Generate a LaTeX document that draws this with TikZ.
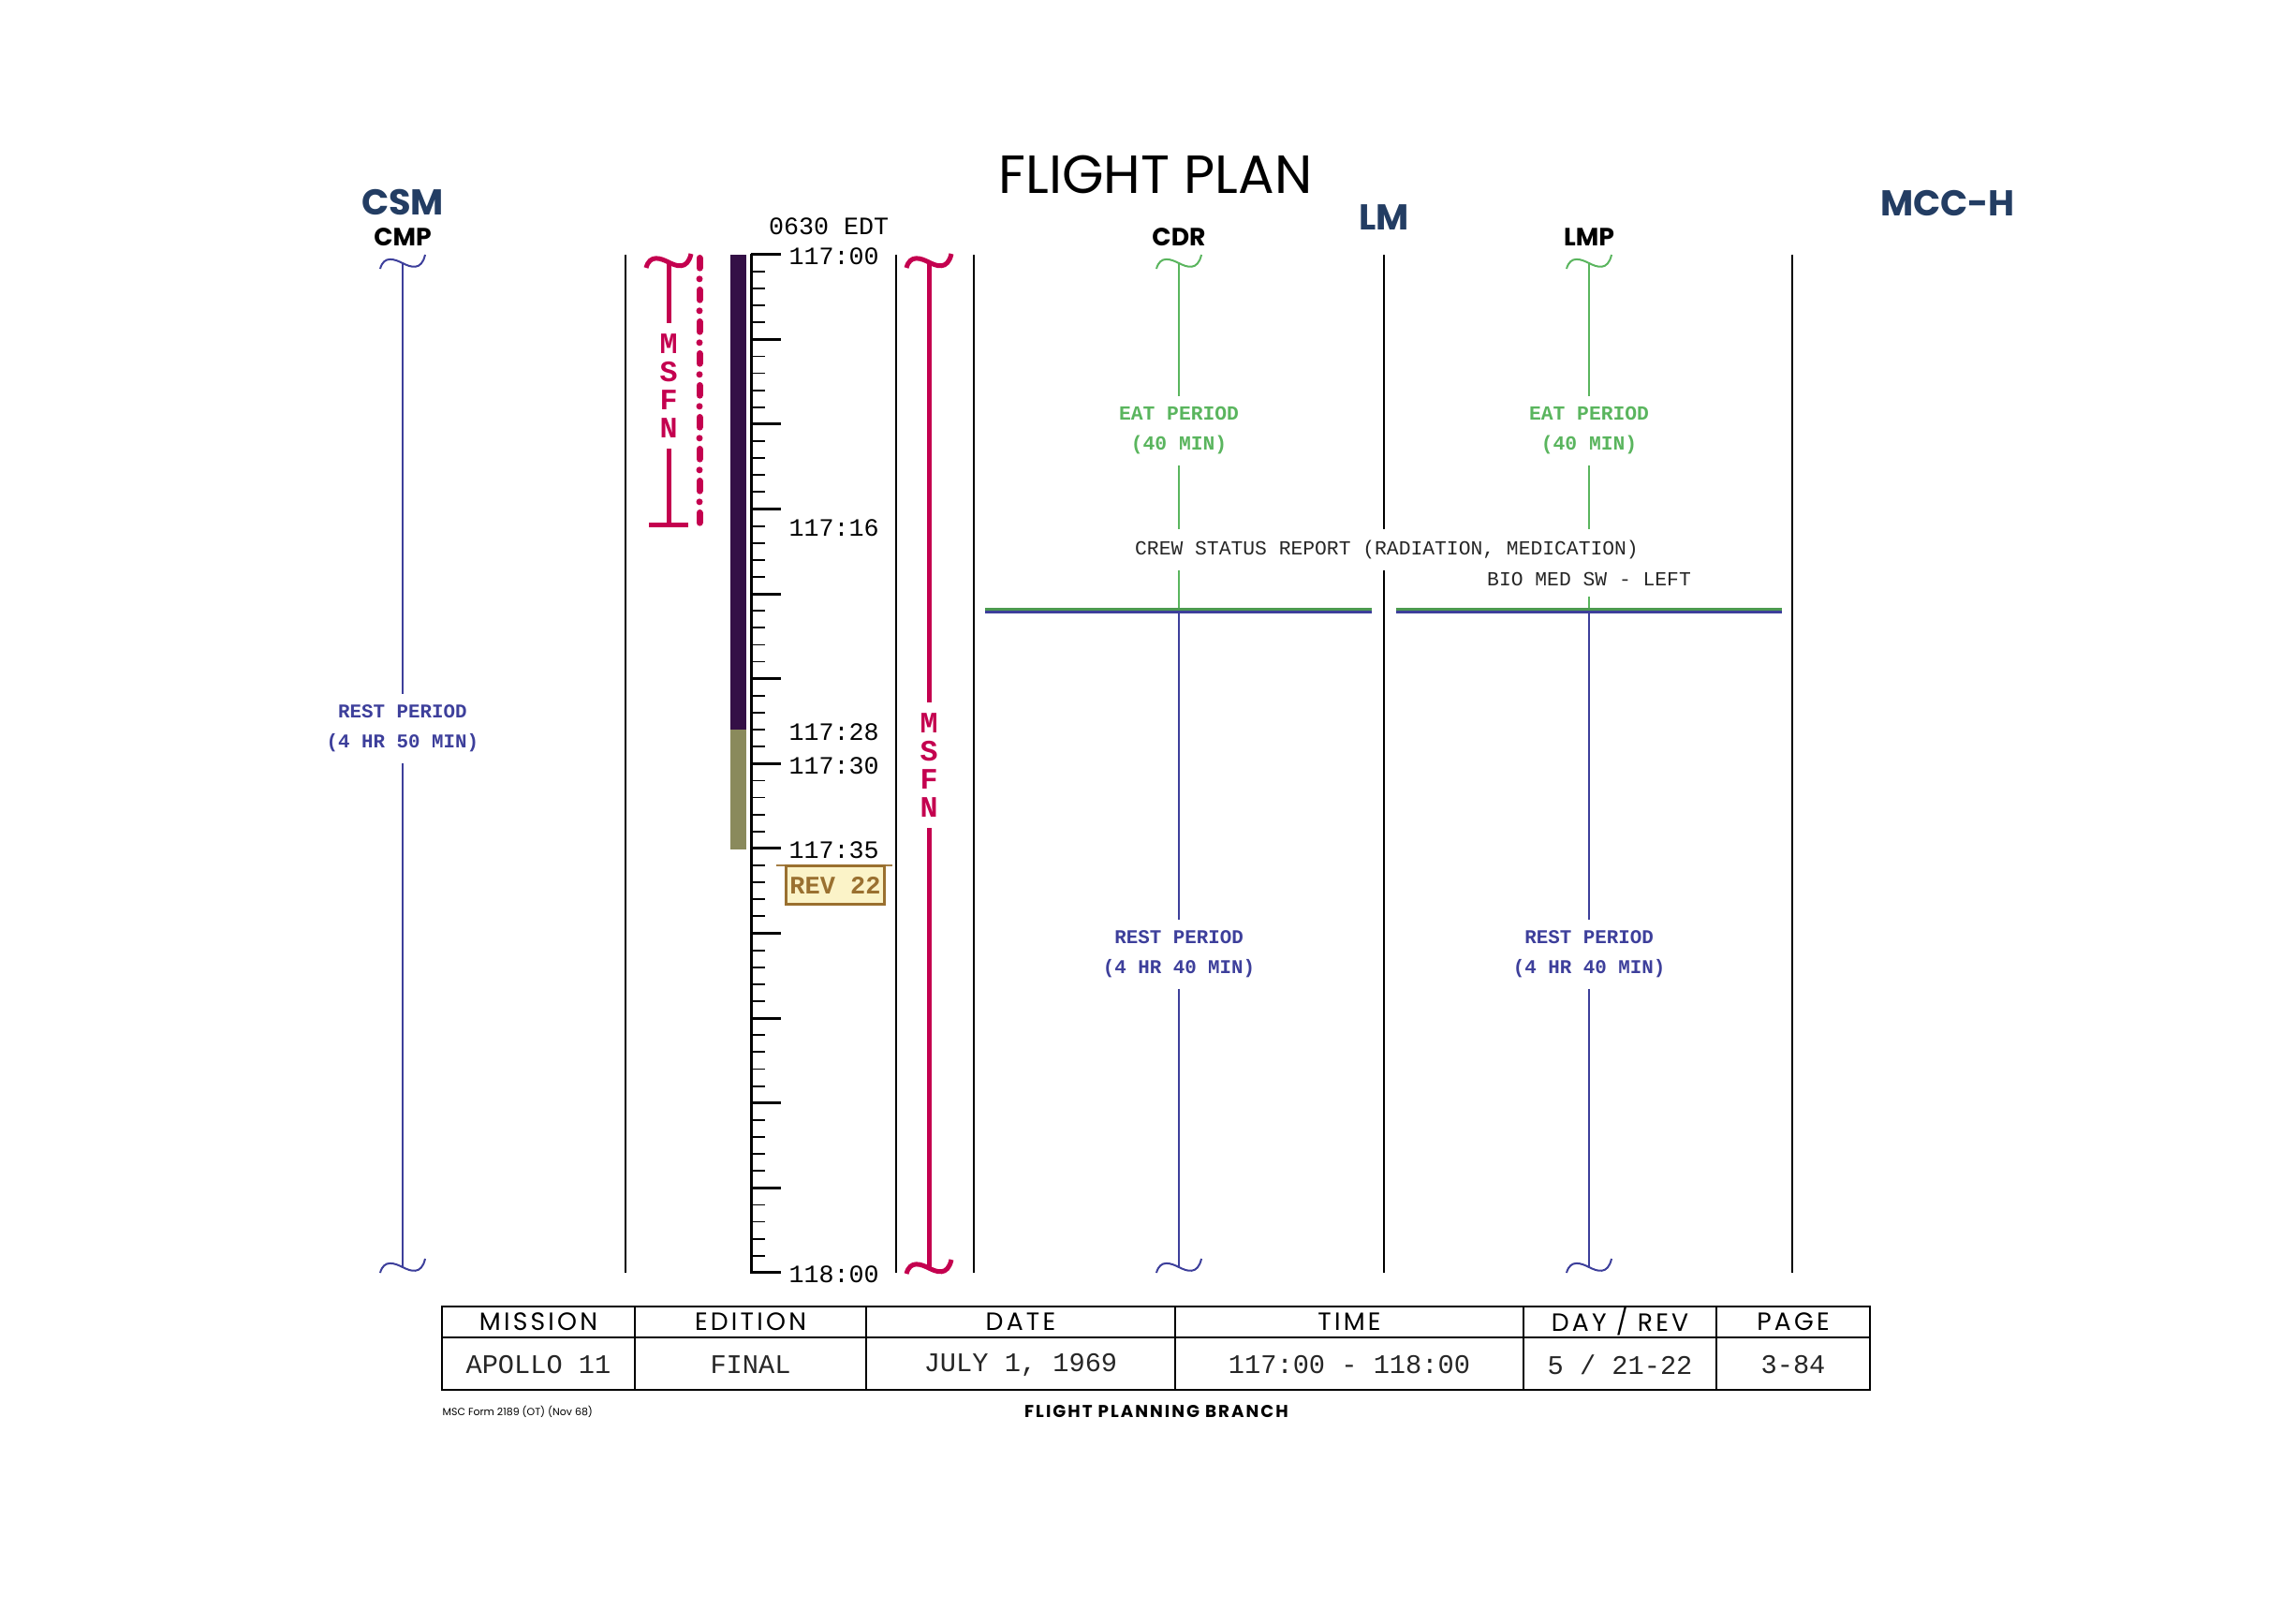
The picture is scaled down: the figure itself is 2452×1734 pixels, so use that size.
\documentclass[tikz,border=0pt]{standalone}
\usepackage{fontspec}
\setmonofont{Liberation Mono}
\newfontfamily\futura{Poppins}
\newfontfamily\futurawide{Poppins}[LetterSpace=12]
\usepackage{xcolor}
\definecolor{navy}{HTML}{233D63}
\definecolor{restblue}{HTML}{3D3F9B}
\definecolor{eatgreen}{HTML}{5AB55E}
\definecolor{msfnred}{HTML}{C4004F}
\definecolor{barpurple}{HTML}{341046}
\definecolor{barolive}{HTML}{8A8A5C}
\definecolor{revgold}{HTML}{9A7030}
\definecolor{revfill}{HTML}{FBF3C8}
\usepackage{tikz}
\usetikzlibrary{positioning,calc}
% wavy end of an activity line
\newcommand{\wavecap}[2]{
  \draw[#1] ([shift={(-24,6)}]#2) .. controls ([shift={(-20,-9)}]#2) and ([shift={(-8,-4)}]#2) .. (#2)
    .. controls ([shift={(8,4)}]#2) and ([shift={(20,9)}]#2) .. ([shift={(24,-9)}]#2);}
\tikzstyle{module}=[text=navy, font={\futura\bfseries\fontsize{11.5}{12}\selectfont}, inner sep=0pt]
\tikzstyle{crewman}=[text=black, font={\futura\bfseries\fontsize{8}{9}\selectfont}, inner sep=0pt]
\tikzstyle{title}=[font={\futura\fontsize{17.2}{18}\selectfont}, inner sep=0pt]
\tikzstyle{sepline}=[line width=0.45pt, black]
\tikzstyle{restline}=[line width=0.6pt, restblue]
\tikzstyle{eatline}=[line width=0.6pt, eatgreen]
\tikzstyle{msfnline}=[line width=1.5pt, msfnred]
\tikzstyle{msfntext}=[text=msfnred, align=center, font={\ttfamily\bfseries\fontsize{9.5}{9}\selectfont}]
\tikzstyle{resttext}=[text=restblue, align=center, font={\ttfamily\bfseries\fontsize{6.25}{9.6}\selectfont}]
\tikzstyle{eattext}=[resttext, text=eatgreen, font={\ttfamily\bfseries\fontsize{6.4}{9.6}\selectfont}]
\tikzstyle{crewtext}=[text=black!85, font={\ttfamily\fontsize{6.4}{9.3}\selectfont}]
\tikzstyle{timelabel}=[anchor=west, inner sep=0pt, font={\ttfamily\fontsize{8}{9}\selectfont}]
\tikzstyle{tablehead}=[inner sep=0pt, font={\futurawide\fontsize{8}{9}\selectfont}]
\tikzstyle{tableval}=[inner sep=0pt, font={\ttfamily\fontsize{8.6}{9}\selectfont}, text=black!85]
\tikzstyle{tableline}=[line width=0.55pt, black]
\tikzstyle{switchgreen}=[eatgreen!85!black, line width=0.8pt]
\tikzstyle{switchblue}=[restblue, line width=0.8pt]

\begin{document}
\begin{tikzpicture}[x=0.3pt,y=-0.3pt]
\useasboundingbox (0,0) rectangle (2452,1734);

% headings
\node[title] (title) at (1234,186) {FLIGHT PLAN};
\node[module] (csm) at (430,215.5) {CSM};
\node[crewman] (cmp) at (430,253.5) {CMP};
\node[module] (lm) at (1478,232) {LM};
\node[module] (mcc) at (2080,217) {MCC-H};
\node[crewman] (cdr) at (1259,253.5) {CDR};
\node[crewman] (lmp) at (1697,253.5) {LMP};

% text blocks
\node[resttext] (cmpRest) at (430,778) {REST PERIOD\\(4 HR 50 MIN)};
\node[eattext] (cdrEat) at (1259,460) {EAT PERIOD\\(40 MIN)};
\node[eattext] (lmpEat) at (1697,460) {EAT PERIOD\\(40 MIN)};
\node[crewtext] (crew) at (1481,587) {CREW STATUS REPORT (RADIATION, MEDICATION)};
\node[crewtext] (bio) at (1697,618) {BIO MED SW - LEFT};
\node[resttext] (cdrRest) at (1259,1019) {REST PERIOD\\(4 HR 40 MIN)};
\node[resttext] (lmpRest) at (1697,1019) {REST PERIOD\\(4 HR 40 MIN)};

% column separators
\foreach \sx in {668,957,1040,1914}
  \draw[sepline] (\sx,272) -- (\sx,1359);
\coordinate (lmTop) at (1478,272);
\coordinate (lmBot) at (1478,1359);
\draw[sepline] (lmTop) -- (lmTop |- crew.north);
\draw[sepline] (lmTop |- crew.south) -- (lmBot);

% time scale
\fill[barpurple] (780,272) rectangle (797,779);
\fill[barolive] (780,779) rectangle (797,907);
\draw[line width=0.9pt] (802,271.2) -- (802,1360);
\foreach \m in {0,...,60}{
  \pgfmathsetmacro\ty{271.7+18.12*\m}
  \pgfmathtruncatemacro\r{mod(\m,5)}
  \ifnum\r=0
    \draw[line width=0.9pt] (802,\ty) -- (834,\ty);
  \else
    \draw[line width=0.55pt] (802,\ty) -- (817,\ty);
  \fi
}
\foreach \m/\lab in {0/117:00,16/117:16,28/117:28,30/117:30,35/117:35,60/118:00}{
  \pgfmathsetmacro\ty{274+18.12*\m}
  \node[timelabel] (t\m) at (842,\ty) {\lab};
}
\node[timelabel, anchor=center] (edt) at (885,242) {0630 EDT};
\draw[revgold!90, line width=0.45pt] (829,924) -- (953,924);
\node[draw=revgold, fill=revfill, line width=0.9pt, text=revgold, inner xsep=1.2pt, minimum height=9.3pt,
  font={\ttfamily\bfseries\fontsize{8.1}{9}\selectfont}] (rev) at (892,945) {REV 22};

% MSFN coverage
\coordinate (msfnAtop) at (714,280);
\coordinate (msfnAbot) at (714,561);
\node[msfntext] (msfnA) at (714,412) {M\\S\\F\\N};
\wavecap{msfnline}{msfnAtop}
\draw[msfnline] (msfnAtop) -- (msfnA.north);
\draw[msfnline] (msfnA.south) -- (msfnAbot);
\draw[msfnline] ([xshift=-6.3pt]msfnAbot) -- ([xshift=6.3pt]msfnAbot);
\draw[msfnred, line width=2.1pt, line cap=round, dash pattern=on 3.2pt off 3.5pt on 0pt off 3.5pt] (747,275.5) -- (747,558.5);

\coordinate (msfnBtop) at (992,280);
\coordinate (msfnBbot) at (992,1354);
\node[msfntext] (msfnB) at (992,817) {M\\S\\F\\N};
\wavecap{msfnline}{msfnBtop}
\wavecap{msfnline}{msfnBbot}
\draw[msfnline] (msfnBtop) -- (msfnB.north);
\draw[msfnline] (msfnB.south) -- (msfnBbot);

% CMP
\coordinate (cmpTop) at (430,281);
\coordinate (cmpBot) at (430,1353);
\wavecap{restline}{cmpTop}
\wavecap{restline}{cmpBot}
\draw[restline] (cmpTop) -- (cmpRest.north);
\draw[restline] (cmpRest.south) -- (cmpBot);

% CDR
\coordinate (cdrTop) at (1259,281);
\coordinate (cdrSwitch) at (1259,652);
\coordinate (cdrBot) at (1259,1353);
\wavecap{eatline}{cdrTop}
\wavecap{restline}{cdrBot}
\draw[eatline] (cdrTop) -- (cdrEat.north);
\draw[eatline] (cdrEat.south) -- (cdrEat.south |- crew.north);
\draw[eatline] (crew.south -| cdrTop) -- (cdrSwitch);
\draw[restline] (cdrSwitch) -- (cdrRest.north);
\draw[restline] (cdrRest.south) -- (cdrBot);
\draw[switchgreen] (1052,650.8) -- (1465,650.8);
\draw[switchblue] (1052,653.3) -- (1465,653.3);

% LMP
\coordinate (lmpTop) at (1697,281);
\coordinate (lmpSwitch) at (1697,652);
\coordinate (lmpBot) at (1697,1353);
\wavecap{eatline}{lmpTop}
\wavecap{restline}{lmpBot}
\draw[eatline] (lmpTop) -- (lmpEat.north);
\draw[eatline] (lmpEat.south) -- (lmpEat.south |- crew.north);
\draw[eatline] (bio.south) -- (lmpSwitch);
\draw[restline] (lmpSwitch) -- (lmpRest.north);
\draw[restline] (lmpRest.south) -- (lmpBot);
\draw[switchgreen] (1491,650.8) -- (1903,650.8);
\draw[switchblue] (1491,653.3) -- (1903,653.3);

% title block
\draw[tableline] (472,1395) rectangle (1997,1484);
\draw[tableline] (472,1428) -- (1997,1428);
\foreach \cx in {678,925,1255,1627,1833}
  \draw[tableline] (\cx,1395) -- (\cx,1484);
\node[tablehead] (hMission) at (575,1411.5) {MISSION};
\node[tablehead] (hEdition) at (801.5,1411.5) {EDITION};
\node[tablehead] (hDate) at (1090,1411.5) {DATE};
\node[tablehead] (hTime) at (1441,1411.5) {TIME};
\node[tablehead] (hDay) at (1730,1411.5) {DAY / REV};
\node[tablehead] (hPage) at (1915,1411.5) {PAGE};
\node[tableval] (vMission) at (575,1457) {APOLLO 11};
\node[tableval] (vEdition) at (801.5,1457) {FINAL};
\node[tableval] (vDate) at (1090,1457) {JULY 1, 1969};
\node[tableval] (vTime) at (1441,1457) {117:00 - 118:00};
\node[tableval] (vDay) at (1730,1457) {5 / 21-22};
\node[tableval] (vPage) at (1915,1457) {3-84};

% footer
\node[anchor=west, inner sep=0pt, font={\futura\fontsize{3.3}{4}\selectfont}] (form) at (472,1507) {MSC Form 2189 (OT) (Nov 68)};
\node[inner sep=0pt, font={\futura\bfseries\fontsize{5.5}{6}\selectfont\addfontfeature{LetterSpace=11}}] (branch) at (1235,1507) {FLIGHT PLANNING BRANCH};

\end{tikzpicture}
\end{document}
